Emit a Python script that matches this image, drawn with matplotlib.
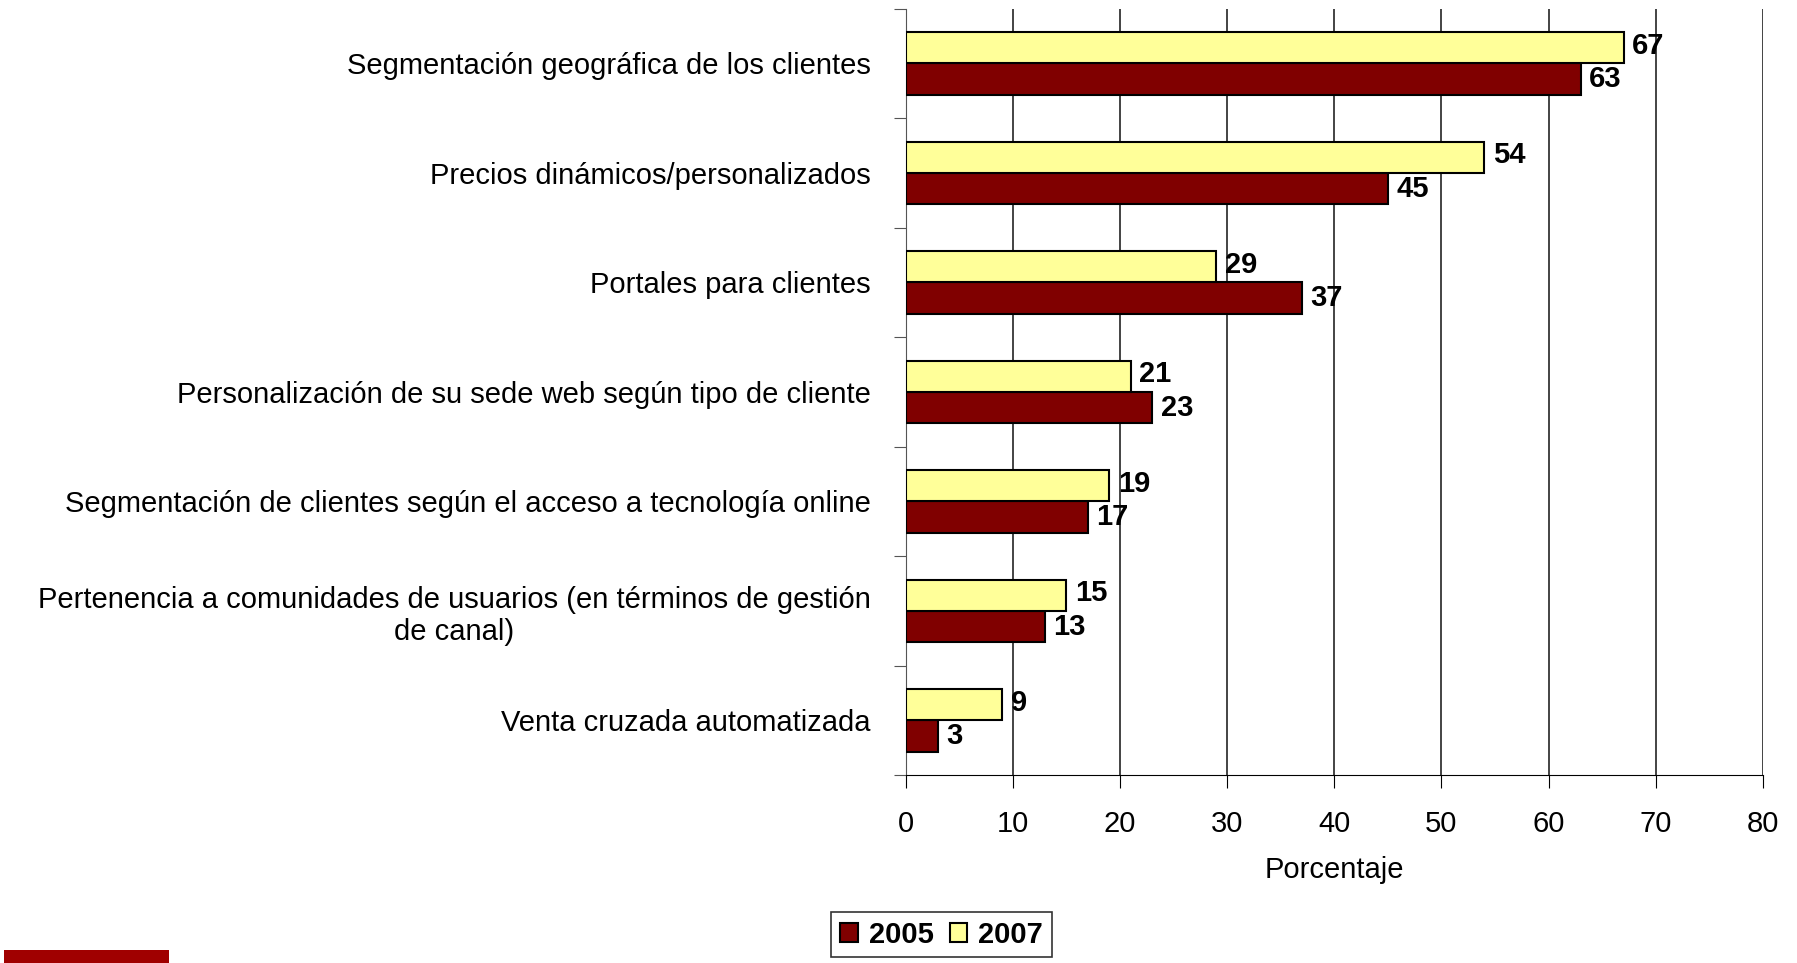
import numpy as np
import matplotlib.pyplot as plt
from matplotlib.patches import Rectangle

plt.rcParams['font.family'] = ['Liberation Sans', 'DejaVu Sans']

categorias = ["Segmentación geográfica de los clientes",
              "Precios dinámicos/personalizados",
              "Portales para clientes",
              "Personalización de su sede web según tipo de cliente",
              "Segmentación de clientes según el acceso a tecnología online",
              "Pertenencia a comunidades de usuarios (en términos de gestión\nde canal)",
              "Venta cruzada automatizada"]
valores_2005 = [63, 45, 37, 23, 17, 13, 3]
valores_2007 = [67, 54, 29, 21, 19, 15, 9]

color_2005 = '#800000'
color_2007 = '#FFFF99'
fs = 21

fig = plt.figure(figsize=(17.97, 9.63), dpi=100)
ax = fig.add_axes([0.504, 0.195, 0.477, 0.796])

n = len(categorias)
pos = np.arange(n)[::-1]  # primera categoria arriba
alto = 0.285

b05 = ax.barh(pos - alto/2, valores_2005, height=alto, color=color_2005,
              edgecolor='black', linewidth=1.5, label='2005', zorder=3)
b07 = ax.barh(pos + alto/2, valores_2007, height=alto, color=color_2007,
              edgecolor='black', linewidth=1.5, label='2007', zorder=3)

# etiquetas de valores
for p, v in zip(pos, valores_2005):
    ax.text(v + 0.8, p - alto/2, str(v), va='center', ha='left',
            fontsize=fs, fontweight='bold', zorder=4)
for p, v in zip(pos, valores_2007):
    ax.text(v + 0.8, p + alto/2 + 0.02, str(v), va='center', ha='left',
            fontsize=fs, fontweight='bold', zorder=4)

ax.set_xlim(0, 80)
ax.set_ylim(-0.5, n - 0.5)
ax.set_xticks(np.arange(0, 81, 10))
ax.tick_params(axis='x', labelsize=fs, length=9, direction='out', pad=16)
ax.xaxis.grid(True, color='#111111', linewidth=1.1, zorder=0)

ax.set_yticks(np.arange(-0.5, n, 1))
ax.set_yticklabels([])
ax.set_yticks(pos, minor=True)
ax.set_yticklabels(categorias, minor=True, fontsize=fs, multialignment='center')
ax.tick_params(axis='y', which='minor', length=0, pad=25)
ax.tick_params(axis='y', which='major', length=9, color='#555555')

for lado in ['top', 'right']:
    ax.spines[lado].set_visible(False)
ax.spines['left'].set_color('#555555')
ax.spines['bottom'].set_color('black')

ax.set_xlabel('Porcentaje', fontsize=fs, labelpad=13)

leg = fig.legend(handles=[b05, b07], loc='upper center', ncol=2,
                 bbox_to_anchor=(0.524, 0.053), borderaxespad=0,
                 frameon=True, fancybox=False,
                 edgecolor='black', prop={'size': fs, 'weight': 'bold'},
                 handlelength=0.6, handleheight=0.6, handletextpad=0.38,
                 columnspacing=0.55, borderpad=0.3)
leg.get_frame().set_linewidth(1.2)

# barra roja decorativa abajo a la izquierda
fig.patches.append(Rectangle((0.002, 0.0), 0.092, 0.013, transform=fig.transFigure,
                             facecolor='#A00000', edgecolor='none'))

fig.savefig('out.png', dpi=100)
